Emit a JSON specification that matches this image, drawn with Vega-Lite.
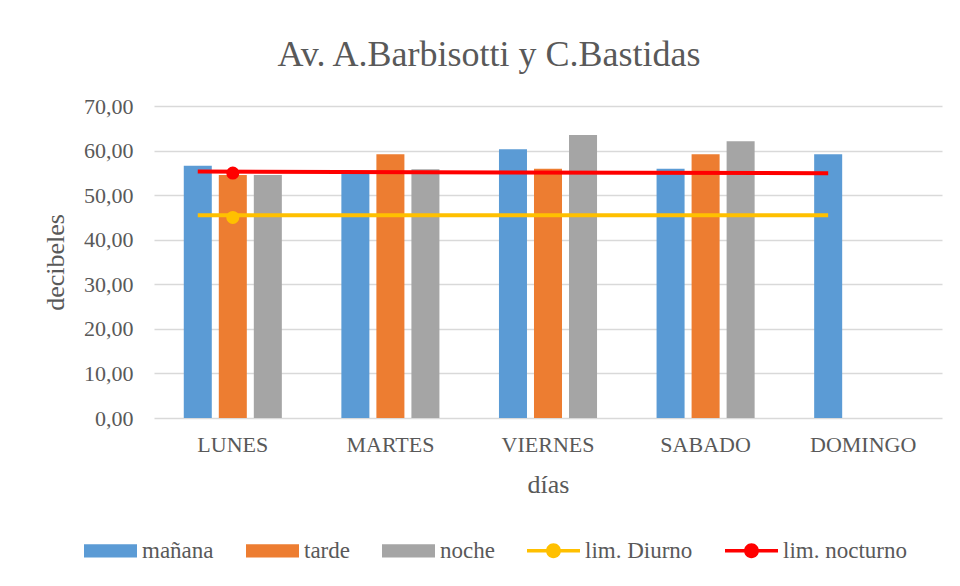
{
  "$schema": "https://vega.github.io/schema/vega-lite/v6.json",
  "width": 788,
  "height": 312,
  "autosize": "none",
  "padding": {"left": 154, "top": 106, "right": 18, "bottom": 168},
  "background": "white",
  "config": {
    "view": {"stroke": null},
    "font": "Liberation Serif",
    "axis": {"labelFont": "Liberation Serif", "titleFont": "Liberation Serif"},
    "legend": {"labelFont": "Liberation Serif", "titleFont": "Liberation Serif"},
    "title": {"font": "Liberation Serif"}
  },
  "title": {
    "text": "Av. A.Barbisotti y C.Bastidas",
    "font": "Liberation Serif",
    "fontSize": 36,
    "fontWeight": "normal",
    "color": "#595959",
    "anchor": "middle",
    "dx": -59,
    "offset": 21
  },
  "datasets": {
    "bars": [
      {"dia": "LUNES", "serie": "mañana", "db": 56.6},
      {"dia": "LUNES", "serie": "tarde", "db": 54.5},
      {"dia": "LUNES", "serie": "noche", "db": 54.5},
      {"dia": "MARTES", "serie": "mañana", "db": 55.2},
      {"dia": "MARTES", "serie": "tarde", "db": 59.2},
      {"dia": "MARTES", "serie": "noche", "db": 55.8},
      {"dia": "VIERNES", "serie": "mañana", "db": 60.3},
      {"dia": "VIERNES", "serie": "tarde", "db": 55.9},
      {"dia": "VIERNES", "serie": "noche", "db": 63.5},
      {"dia": "SABADO", "serie": "mañana", "db": 55.9},
      {"dia": "SABADO", "serie": "tarde", "db": 59.2},
      {"dia": "SABADO", "serie": "noche", "db": 62.1},
      {"dia": "DOMINGO", "serie": "mañana", "db": 59.2}
    ],
    "lims": [
      {"serie": "lim. Diurno", "dia": "LUNES", "franja": "mañana", "db": 45.5},
      {"serie": "lim. Diurno", "dia": "DOMINGO", "franja": "mañana", "db": 45.5},
      {"serie": "lim. nocturno", "dia": "LUNES", "franja": "mañana", "db": 55.3},
      {"serie": "lim. nocturno", "dia": "DOMINGO", "franja": "mañana", "db": 54.9}
    ],
    "puntos": [
      {"serie": "lim. Diurno", "dia": "LUNES", "franja": "tarde", "db": 45.0},
      {"serie": "lim. nocturno", "dia": "LUNES", "franja": "tarde", "db": 54.95}
    ]
  },
  "layer": [
    {
      "data": {"name": "bars"},
      "mark": {"type": "bar"},
      "encoding": {
        "x": {
          "field": "dia",
          "type": "nominal",
          "sort": ["LUNES", "MARTES", "VIERNES", "SABADO", "DOMINGO"],
          "scale": {"domain": ["LUNES", "MARTES", "VIERNES", "SABADO", "DOMINGO"], "paddingInner": 0.3333, "paddingOuter": 0.1667},
          "axis": {
            "title": "días",
            "titleFont": "Liberation Serif",
            "titleFontSize": 26,
            "titleFontWeight": "normal",
            "titleColor": "#595959",
            "titlePadding": 16,
            "labelFont": "Liberation Serif",
            "labelFontSize": 22,
            "labelColor": "#595959",
            "labelAngle": 0,
            "labelPadding": 16,
            "ticks": false,
            "domain": false
          }
        },
        "xOffset": {
          "field": "serie",
          "type": "nominal",
          "scale": {"domain": ["mañana", "tarde", "noche"], "paddingInner": 0.2, "paddingOuter": 0.1}
        },
        "y": {
          "field": "db",
          "type": "quantitative",
          "scale": {"domain": [0, 70]},
          "axis": {
            "title": "decibeles",
            "titleFont": "Liberation Serif",
            "titleFontSize": 26,
            "titleFontWeight": "normal",
            "titleColor": "#595959",
            "titlePadding": 15,
            "labelFont": "Liberation Serif",
            "labelFontSize": 22,
            "labelColor": "#595959",
            "labelPadding": 21,
            "values": [0, 10, 20, 30, 40, 50, 60, 70],
            "labelExpr": "replace(format(datum.value, '.2f'), '.', ',')",
            "ticks": false,
            "domain": false,
            "gridColor": "#d9d9d9",
            "gridWidth": 1.3
          }
        },
        "color": {
          "field": "serie",
          "type": "nominal",
          "scale": {
            "domain": ["mañana", "tarde", "noche", "lim. Diurno", "lim. nocturno"],
            "range": ["#5B9BD5", "#ED7D31", "#A5A5A5", "#FFC000", "#FF0000"]
          },
          "legend": {
            "title": null,
            "orient": "none",
            "legendX": -70,
            "legendY": 418,
            "direction": "horizontal",
            "columns": 5,
            "columnPadding": 32,
            "labelFont": "Liberation Serif",
            "labelFontSize": 23,
            "labelColor": "#595959",
            "labelOffset": 5,
            "symbolSize": 2809,
            "symbolStrokeWidth": 0,
            "encode": {
              "symbols": {
                "update": {
                  "shape": {"signal": "indexof(['mañana','tarde','noche'], datum.value) >= 0 ? 'M-1,-0.25H1V0.25H-1Z' : 'M-1,-0.07H1V0.07H-1Z M-0.28,0A0.28,0.28 0 1,1 0.28,0A0.28,0.28 0 1,1 -0.28,0Z'"},
                  "fill": {"signal": "scale('color', datum.value)"},
                  "opacity": {"value": 1},
                  "strokeWidth": {"value": 0}
                }
              }
            }
          }
        }
      }
    },
    {
      "data": {"name": "lims"},
      "mark": {"type": "line", "strokeWidth": 4},
      "encoding": {
        "x": {"field": "dia", "type": "nominal"},
        "xOffset": {"field": "franja", "type": "nominal"},
        "y": {"field": "db", "type": "quantitative"},
        "color": {"field": "serie", "type": "nominal"}
      }
    },
    {
      "data": {"name": "puntos"},
      "mark": {"type": "point", "filled": true, "size": 170, "opacity": 1},
      "encoding": {
        "x": {"field": "dia", "type": "nominal"},
        "xOffset": {"field": "franja", "type": "nominal"},
        "y": {"field": "db", "type": "quantitative"},
        "color": {"field": "serie", "type": "nominal"}
      }
    }
  ]
}
